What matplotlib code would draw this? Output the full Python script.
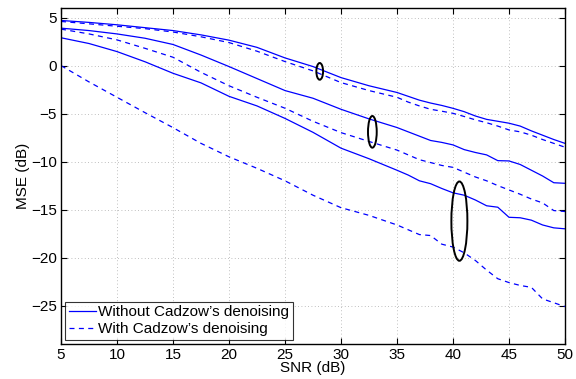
import numpy as np
import matplotlib
matplotlib.use('Agg')
import matplotlib.pyplot as plt
from matplotlib.patches import Ellipse

plt.rcParams['font.family'] = ['Liberation Sans', 'DejaVu Sans']

# SNR grid (dB)
snr = [5, 7.5, 10, 12.5, 15, 17.5, 20, 22.5, 25, 27.5, 30, 32.5, 35,
       36, 37, 38, 39, 40, 41, 42, 43, 44, 45, 46, 47, 48, 49, 50]

# without Cadzow (solid)
s1 = [4.7, 4.5, 4.25, 3.95, 3.65, 3.2, 2.65, 1.9, 0.8, -0.1, -1.25, -2.1, -2.8,
      -3.2, -3.6, -3.9, -4.15, -4.45, -4.8, -5.25, -5.6, -5.8, -6.0, -6.3, -6.8, -7.25, -7.7, -8.1]
s2 = [3.9, 3.65, 3.3, 2.85, 2.2, 1.1, -0.1, -1.35, -2.6, -3.4, -4.55, -5.55, -6.45,
      -6.9, -7.35, -7.8, -8.0, -8.26, -8.75, -9.05, -9.3, -9.9, -9.93, -10.3, -10.9, -11.5, -12.2, -12.26]
s3 = [2.9, 2.3, 1.46, 0.4, -0.8, -1.8, -3.2, -4.2, -5.5, -6.95, -8.6, -9.7, -10.9,
      -11.4, -12.0, -12.3, -12.8, -13.25, -13.5, -14.0, -14.6, -14.75, -15.8, -15.85, -16.1, -16.6, -16.9, -17.0]

# with Cadzow (dashed)
d1 = [4.6, 4.35, 4.1, 3.85, 3.5, 3.0, 2.4, 1.5, 0.42, -0.55, -1.77, -2.6, -3.3,
      -3.8, -4.2, -4.55, -4.75, -4.97, -5.3, -5.65, -5.95, -6.3, -6.7, -6.9, -7.25, -7.7, -8.1, -8.5]
d2 = [3.8, 3.3, 2.68, 1.8, 0.87, -0.7, -2.1, -3.3, -4.44, -5.8, -6.98, -7.9, -8.8,
      -9.3, -9.8, -10.1, -10.4, -10.6, -11.1, -11.6, -12.0, -12.5, -12.95, -13.4, -13.9, -14.3, -15.1, -15.2]
d3 = [0.0, -1.7, -3.3, -4.9, -6.46, -8.1, -9.5, -10.7, -12.0, -13.5, -14.8, -15.6, -16.6,
      -17.1, -17.6, -17.7, -18.6, -18.9, -19.5, -20.3, -21.3, -22.2, -22.6, -22.9, -23.1, -24.3, -24.7, -25.1]

# ellipses: (snr centre, mse centre, width, height)
ell_x = [28.1, 32.8, 40.57]
ell_y = [-0.6, -6.9, -16.2]
ell_w = [0.6, 0.78, 1.43]
ell_h = [1.74, 3.3, 8.26]

fig = plt.figure(figsize=(5.76, 3.79), dpi=100)
ax = fig.add_axes([0.1059, 0.0923, 0.8750, 0.8866])

blue = (0, 0, 1)
ax.plot(snr, s1, '-', color=blue, lw=0.9, label='Without Cadzow\u2019s denoising')
for y in [s2, s3]:
    ax.plot(snr, y, '-', color=blue, lw=0.9)
ax.plot(snr, d1, '--', color=blue, lw=0.9, dashes=(4, 3.5), label='With Cadzow\u2019s denoising')
for y in [d2, d3]:
    ax.plot(snr, y, '--', color=blue, lw=0.9, dashes=(4, 3.5))

for xc, yc, w, h in zip(ell_x, ell_y, ell_w, ell_h):
    ax.add_patch(Ellipse((xc, yc), w, h, fill=False, edgecolor='black', lw=1.4, zorder=5))

ax.set_xlim(5, 50)
ax.set_ylim(-29, 6)
ax.set_xticks(np.arange(5, 51, 5))
ax.set_yticks(np.arange(-25, 6, 5))
ax.grid(True, linestyle=(0, (1, 3)), color='#aaaaaa', lw=0.6)
ax.tick_params(direction='in', top=True, right=True, labelsize=11, length=4, pad=3)
for sp in ax.spines.values():
    sp.set_linewidth(1.0)

ax.set_xlabel('SNR (dB)', fontsize=11, labelpad=-1)
ax.set_ylabel('MSE (dB)', fontsize=11, labelpad=1)

leg = ax.legend(loc='lower left', fontsize=11, frameon=True, fancybox=False,
                edgecolor='black', borderpad=0.25, labelspacing=0.2,
                handlelength=1.8, handletextpad=0.15, borderaxespad=0.25)
leg.get_frame().set_linewidth(0.8)

plt.savefig('out.png', dpi=100)
